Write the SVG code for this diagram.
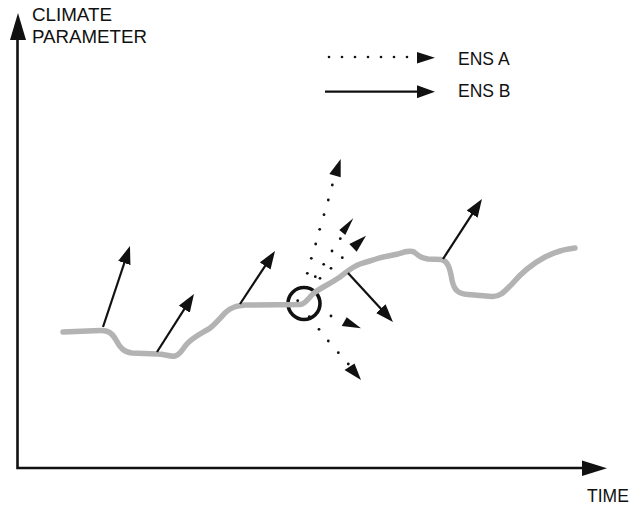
<svg xmlns="http://www.w3.org/2000/svg" width="630" height="506" viewBox="0 0 630 506">
  <style>
    .lbl { font-family: "Liberation Sans", Arial, Helvetica, sans-serif; font-size: 17.5px; fill: #111; }
    .axis { stroke: #111; stroke-width: 2.6; fill: none; }
    .vec { stroke: #111; stroke-width: 2.2; fill: none; marker-end: url(#head); }
    .head { fill: #111; }
    .dot { fill: #111; }
    .trend { stroke: #b3b3b4; stroke-width: 5.5; fill: none; stroke-linecap: round; stroke-linejoin: round; }
  </style>
  <defs>
    <marker id="head" viewBox="0 0 18 13" markerWidth="18" markerHeight="13" refX="8" refY="6.5" orient="auto" markerUnits="userSpaceOnUse">
      <path d="M0,0 L18,6.5 L0,13 z" fill="#111"/>
    </marker>
  </defs>

  <rect width="630" height="506" fill="#fff"/>

  <!-- axes -->
  <g id="axes">
    <path class="axis" d="M17.5,30 L17.5,468 L584,468"/>
    <polygon class="head" points="18,13 10,40 26,40"/>
    <polygon class="head" points="607,468.3 582,460.6 582,476"/>
    <text class="lbl" x="32" y="20.5" textLength="80" lengthAdjust="spacingAndGlyphs">CLIMATE</text>
    <text class="lbl" x="32" y="43" textLength="115" lengthAdjust="spacingAndGlyphs">PARAMETER</text>
    <text class="lbl" x="587" y="501.5">TIME</text>
  </g>

  <!-- legend -->
  <g id="legend">
    <g class="dot">
      <circle cx="329" cy="57" r="1.3"/>
      <circle cx="342" cy="57" r="1.3"/>
      <circle cx="355" cy="57" r="1.3"/>
      <circle cx="368" cy="57" r="1.3"/>
      <circle cx="381" cy="57" r="1.3"/>
      <circle cx="394" cy="57" r="1.3"/>
      <circle cx="407" cy="57" r="1.3"/>
    </g>
    <polygon class="head" points="435,57.7 417,52 417,63.4"/>
    <text class="lbl" x="458" y="65">ENS A</text>
    <line class="vec" x1="325" y1="91.7" x2="425" y2="91.7"/>
    <text class="lbl" x="458" y="96.7">ENS B</text>
  </g>

  <!-- selected point -->
  <g id="marker-circle">
    <circle cx="304" cy="303.5" r="16" fill="none" stroke="#111" stroke-width="3.6"/>
  </g>

  <!-- climate trajectory -->
  <g id="trajectory">
    <path class="trend" d="M63,332 L100,330.5 C108,330 112,333 116,340 C120,348 124,352 132,353 L157,354 C165,354 170,357 175,356 C180,355 182,350 186,345 C192,338 200,334 207,330 C213,327 218,320 226,312 C232,307 236,306 245,305 L300,304.5 C306,304 308,298 314,293 C320,288 330,284 340,277 C348,271 352,267 360,264 C366,262 370,261 376,259 C384,256 390,256 398,254 C404,252 410,250 414,252 C420,257 422,258 428,259 L441,259.5 C448,261 450,268 452,280 C454,290 458,294 468,294.5 L492,296.5 C500,297 504,292 512,284 C522,272 532,264 545,257 C555,252 565,249 575,248"/>
  </g>

  <!-- ensemble vectors -->
  <g id="connectors">
    <!-- ENS B (solid) -->
    <line class="vec" x1="103" y1="327" x2="126.8" y2="255.5"/>
    <line class="vec" x1="157" y1="352" x2="188.6" y2="302.4"/>
    <line class="vec" x1="240" y1="304" x2="269.5" y2="259.3"/>
    <line class="vec" x1="443" y1="259" x2="476.5" y2="207.4"/>
    <line class="vec" x1="348" y1="273" x2="386.2" y2="314.6"/>

    <!-- ENS A (dotted) -->
    <g class="dot">
      <circle cx="297.7" cy="300.7" r="1.4"/>
      <circle cx="307.3" cy="273.3" r="1.4"/>
      <circle cx="311.3" cy="258.3" r="1.4"/>
      <circle cx="315.7" cy="244" r="1.4"/>
      <circle cx="319.7" cy="229.3" r="1.4"/>
      <circle cx="324" cy="214.7" r="1.4"/>
      <circle cx="328.3" cy="200" r="1.4"/>
      <circle cx="332.3" cy="185" r="1.4"/>

      <circle cx="315.3" cy="276.7" r="1.4"/>
      <circle cx="323.7" cy="264.3" r="1.4"/>
      <circle cx="332" cy="251" r="1.4"/>
      <circle cx="340.3" cy="238.7" r="1.4"/>

      <circle cx="320" cy="278.3" r="1.4"/>
      <circle cx="331" cy="268.3" r="1.4"/>
      <circle cx="342.3" cy="257.7" r="1.4"/>

      <circle cx="309.3" cy="316.7" r="1.4"/>
      <circle cx="331" cy="316" r="1.4"/>

      <circle cx="319" cy="329.3" r="1.4"/>
      <circle cx="328.3" cy="341" r="1.4"/>
      <circle cx="338.3" cy="352.7" r="1.4"/>
      <circle cx="348.3" cy="364" r="1.4"/>
    </g>
    <polygon class="head" points="340.7,159 329.3,174 340.7,177.3"/>
    <polygon class="head" points="353.3,218.3 339.3,230 345.3,235"/>
    <polygon class="head" points="366,235.7 349.3,244 356.7,251.7"/>
    <polygon class="head" points="361,328.3 346.7,317.3 341.7,326"/>
    <polygon class="head" points="361,380 344.5,370 354.5,363.5"/>
  </g>
</svg>
